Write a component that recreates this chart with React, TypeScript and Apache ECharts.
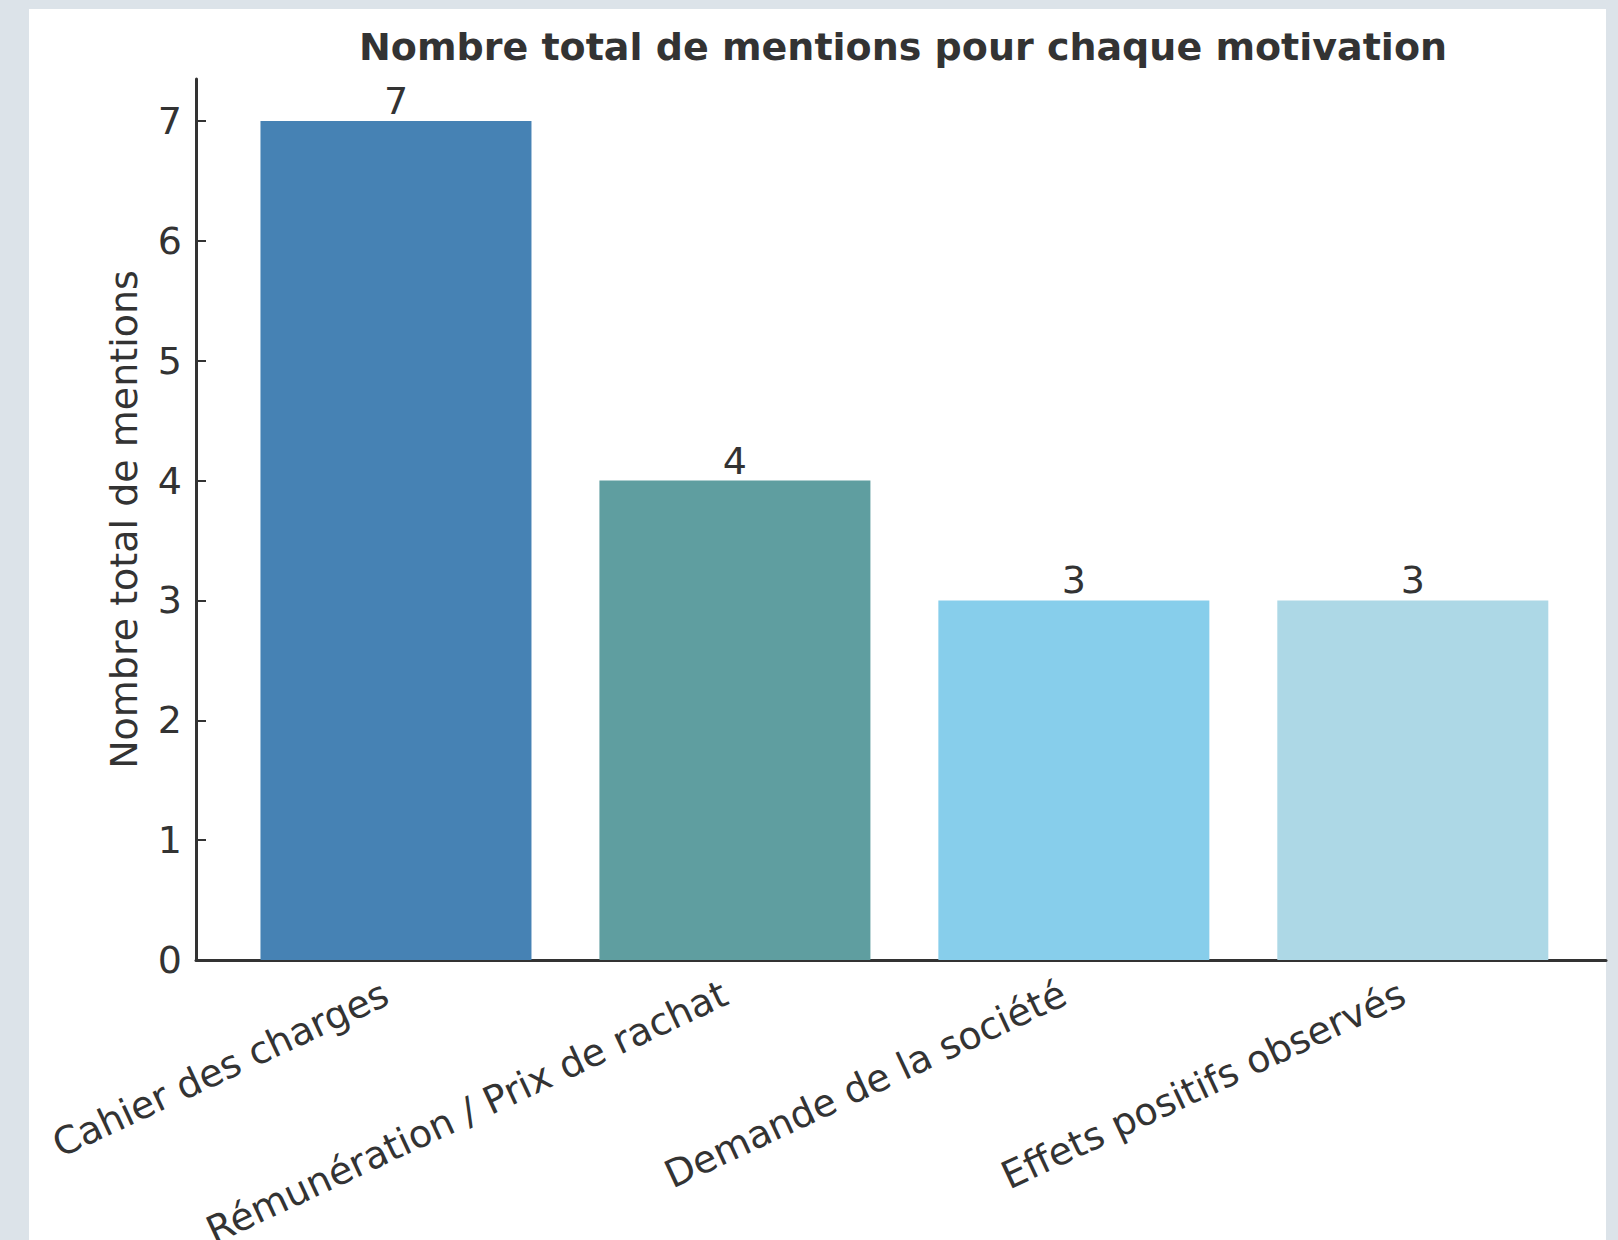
import React, { useEffect, useRef } from "react";
import * as echarts from "echarts";

const categories = [
  "Cahier des charges",
  "Rémunération / Prix de rachat",
  "Demande de la société",
  "Effets positifs observés",
];
const mentions = [7, 4, 3, 3];
const barColors = ["#4682B4", "#5F9EA0", "#87CEEB", "#ADD8E6"];
const yTicks = [0, 1, 2, 3, 4, 5, 6, 7];
const titleText = "Nombre total de mentions pour chaque motivation";
const yAxisTitle = "Nombre total de mentions";

const FONT = "DejaVu Sans";
const TEXT = "#333333";

export default function App() {
  const ref = useRef<HTMLDivElement>(null);
  useEffect(() => {
    if (!ref.current) return;
    const chart = echarts.init(ref.current, undefined, { renderer: "svg" });
    const xIdx = categories.map((_, i) => i);
    chart.setOption({
      animation: false,
      backgroundColor: "#dce3e9",
      graphic: [
        {
          type: "rect",
          z: -100,
          silent: true,
          shape: { x: 29, y: 9, width: 1577, height: 1240 },
          style: { fill: "#ffffff" },
        },
      ],
      title: {
        text: titleText,
        left: 898,
        top: 23,
        textAlign: "center",
        textStyle: { fontFamily: FONT, fontSize: 38, fontWeight: "bold", color: TEXT },
      },
      grid: { left: 196, top: 79, width: 1410, height: 881, containLabel: false, outerBoundsMode: "none" },
      xAxis: {
        type: "value",
        min: -0.59,
        max: 3.57,
        splitLine: { show: false },
        axisLine: { show: true, onZero: false, lineStyle: { color: TEXT, width: 3 } },
        axisTick: { show: true, inside: true, length: 10, customValues: xIdx, lineStyle: { color: TEXT, width: 2 } },
        axisLabel: {
          customValues: xIdx,
          rotate: 25,
          margin: 27,
          padding: [0, 11, 0, 0],
          fontFamily: FONT,
          fontSize: 38,
          color: TEXT,
          formatter: (v: number) => categories[Math.round(v)] ?? "",
        },
      },
      yAxis: {
        type: "value",
        min: 0,
        max: 7.35,
        name: yAxisTitle,
        nameLocation: "middle",
        nameGap: 53,
        nameTextStyle: { fontFamily: FONT, fontSize: 38, color: TEXT },
        splitLine: { show: false },
        axisLine: { show: true, onZero: false, lineStyle: { color: TEXT, width: 3 } },
        axisTick: { show: true, inside: true, length: 10, customValues: yTicks, lineStyle: { color: TEXT, width: 2 } },
        axisLabel: {
          customValues: yTicks,
          margin: 14,
          fontFamily: FONT,
          fontSize: 38,
          color: TEXT,
        },
      },
      series: [
        {
          type: "bar",
          barWidth: 271,
          data: mentions.map((v, i) => ({ value: [i, v], itemStyle: { color: barColors[i] } })),
          label: {
            show: true,
            position: "top",
            distance: 1,
            fontFamily: FONT,
            fontSize: 38,
            color: TEXT,
            formatter: (p: any) => String(p.value[1]),
          },
        },
      ],
    });
    return () => chart.dispose();
  }, []);
  return <div ref={ref} style={{ position: "fixed", left: 0, top: 0, width: 1618, height: 1240 }} />;
}
